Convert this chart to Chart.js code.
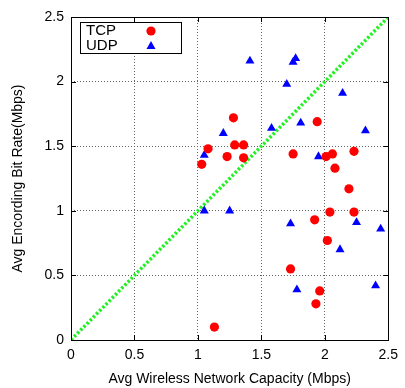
<!DOCTYPE html>
<html>
<head>
    <title>Encoding bit rate vs wireless capacity</title>
    <style>
        body { margin: 0; background: #fff; }
        #wrap { width: 405px; height: 388px; }
    </style>
</head>
<body>
    <div id="wrap"><canvas id="chart" width="405" height="388"></canvas></div>

    <script src="https://cdn.jsdelivr.net/npm/chart.js"></script>
    <script>
        // values (Mbps)
        var tcpX = [1.28, 1.08, 1.03, 1.29, 1.36, 1.23, 1.36, 1.94, 1.75, 2.01, 2.06, 2.23, 2.08,
                    2.19, 2.04, 2.23, 1.92, 2.02, 1.73, 1.96, 1.93, 1.13];
        var tcpY = [1.72, 1.48, 1.36, 1.51, 1.51, 1.42, 1.41, 1.69, 1.44, 1.42, 1.44, 1.46, 1.33,
                    1.17, 0.99, 0.99, 0.93, 0.77, 0.55, 0.38, 0.28, 0.10];
        var udpX = [1.41, 1.75, 1.77, 1.70, 2.14, 1.81, 1.58, 2.32, 1.20, 1.05, 1.95,
                    1.05, 1.25, 1.73, 2.25, 2.44, 2.12, 1.78, 2.40];
        var udpY = [2.16, 2.15, 2.18, 1.98, 1.91, 1.68, 1.64, 1.62, 1.60, 1.43, 1.42,
                    1.00, 1.00, 0.90, 0.91, 0.86, 0.70, 0.39, 0.42];
        var diagX = [0, 2.5];
        var diagY = [0, 2.5];
        var tickVals = [0, 0.5, 1, 1.5, 2, 2.5];

        function toPoints(xs, ys) {
            var pts = [];
            xs.forEach(function (x, i) { pts.push({ x: x, y: ys[i] }); });
            return pts;
        }

        var FONT = 'Liberation Sans, Arial, sans-serif';

        // frame, inner tick marks and the boxed legend, gnuplot style
        var framePlugin = {
            id: 'frame',
            afterDraw: function (chart) {
                var ctx = chart.ctx;
                var a = chart.chartArea;
                var xs = chart.scales.x, ys = chart.scales.y;
                ctx.save();
                ctx.strokeStyle = '#000';
                ctx.lineWidth = 1;
                ctx.setLineDash([]);
                tickVals.forEach(function (v) {
                    var px = Math.round(xs.getPixelForValue(v)) + 0.5;
                    var py = Math.round(ys.getPixelForValue(v)) + 0.5;
                    ctx.beginPath();
                    ctx.moveTo(px, a.bottom); ctx.lineTo(px, a.bottom - 5);
                    ctx.moveTo(px, a.top); ctx.lineTo(px, a.top + 5);
                    ctx.moveTo(a.left, py); ctx.lineTo(a.left + 5, py);
                    ctx.moveTo(a.right, py); ctx.lineTo(a.right - 5, py);
                    ctx.stroke();
                });
                ctx.strokeRect(Math.round(a.left) + 0.5, Math.round(a.top) + 0.5,
                    Math.round(a.right - a.left), Math.round(a.bottom - a.top));

                // legend box
                ctx.fillStyle = '#fff';
                ctx.fillRect(80, 22, 101, 31);
                ctx.strokeRect(80.5, 22.5, 101, 31);
                ctx.fillStyle = '#000';
                ctx.font = '15px ' + FONT;
                ctx.textBaseline = 'middle';
                ctx.textAlign = 'left';
                ctx.fillText(chart.data.datasets[0].label, 86, 31);
                ctx.fillText(chart.data.datasets[1].label, 86, 46);
                ctx.fillStyle = '#ff0000';
                ctx.beginPath();
                ctx.arc(151, 31, 4.6, 0, Math.PI * 2);
                ctx.fill();
                ctx.fillStyle = '#0000ff';
                ctx.beginPath();
                ctx.moveTo(151, 41);
                ctx.lineTo(155.5, 49);
                ctx.lineTo(146.5, 49);
                ctx.closePath();
                ctx.fill();
                ctx.restore();
            }
        };

        function axis(title, isX) {
            return {
                type: 'linear',
                min: 0,
                max: 2.5,
                afterBuildTicks: function (scale) {
                    scale.ticks = tickVals.map(function (v) { return { value: v }; });
                },
                afterFit: function (scale) {
                    if (isX) { scale.height = 48; } else { scale.width = 71; }
                },
                grid: {
                    color: '#666',
                    lineWidth: 1,
                    drawTicks: false,
                    tickLength: 0
                },
                border: { display: false, dash: [1, 2] },
                ticks: {
                    color: '#000',
                    font: { family: FONT, size: 14 },
                    padding: 7,
                    callback: function (v) { return String(v); }
                },
                title: {
                    display: true,
                    text: title,
                    color: '#000',
                    font: { family: FONT, size: 14 },
                    padding: isX ? { top: 4, bottom: 0 } : { top: 10, bottom: 0 }
                }
            };
        }

        new Chart(document.getElementById('chart').getContext('2d'), {
            type: 'scatter',
            data: {
                datasets: [{
                    label: 'TCP',
                    data: toPoints(tcpX, tcpY),
                    pointStyle: 'circle',
                    pointRadius: 4.6,
                    backgroundColor: '#ff0000',
                    borderColor: '#ff0000',
                    borderWidth: 0
                }, {
                    label: 'UDP',
                    data: toPoints(udpX, udpY),
                    pointStyle: 'triangle',
                    pointRadius: 5.2,
                    backgroundColor: '#0000ff',
                    borderColor: '#0000ff',
                    borderWidth: 0
                }, {
                    type: 'line',
                    label: 'diag',
                    data: toPoints(diagX, diagY),
                    borderColor: '#22f022',
                    borderWidth: 3.5,
                    borderDash: [2.5, 2],
                    pointRadius: 0,
                    fill: false
                }]
            },
            options: {
                responsive: false,
                animation: false,
                layout: { padding: { left: 0, right: 12, top: 17, bottom: 0 } },
                plugins: {
                    legend: { display: false },
                    tooltip: { enabled: false }
                },
                scales: {
                    x: axis('Avg Wireless Network Capacity (Mbps)', true),
                    y: axis('Avg Encording Bit Rate(Mbps)', false)
                }
            },
            plugins: [framePlugin]
        });
    </script>
</body>
</html>
